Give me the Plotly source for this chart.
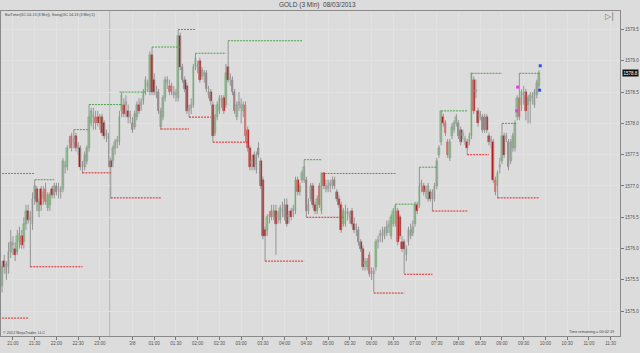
import plotly.graph_objects as go

# ---------------- data ----------------
opens = [
1575.4,1575.8,1575.6,1575.7,1575.95,1576.05,1576.0,1575.95,1576.1,1576.2,
1576.1,1576.4,1576.6,1576.45,1576.4,1576.8,1576.95,1576.6,1576.95,1576.8,
1576.95,1576.65,1576.7,1576.95,1576.85,1577.0,1576.95,1576.9,1576.95,1577.3,
1577.3,1577.7,1577.8,1577.7,1577.8,1577.6,1577.6,1577.3,1577.3,1577.4,
1577.6,1578.0,1578.1,1578.1,1578.1,1578.0,1578.1,1578.0,1577.85,1577.8,
1577.4,1577.4,1577.6,1577.7,1577.7,1578.2,1578.3,1578.3,1578.2,1578.1,
1578.0,1577.95,1578.1,1578.3,1578.3,1578.35,1578.5,1578.6,1578.5,1579.1,
1578.7,1578.5,1578.5,1577.95,1578.1,1578.4,1578.65,1578.6,1578.6,1578.5,
1578.45,1578.4,1579.4,1578.9,1578.7,1578.6,1578.2,1578.25,1578.3,1578.9,
1578.9,1579.0,1578.75,1578.8,1578.8,1578.5,1578.5,1578.3,1577.85,1578.1,
1578.2,1578.35,1578.4,1578.3,1578.9,1578.7,1578.7,1578.5,1578.1,1578.3,
1578.3,1578.2,1578.3,1577.9,1577.6,1577.35,1577.5,1577.25,1577.6,1577.4,
1577.1,1576.3,1576.3,1576.5,1576.6,1576.5,1576.6,1576.5,1576.45,1576.6,
1576.5,1576.7,1576.5,1576.6,1576.6,1576.6,1577.1,1576.9,1577.1,1577.1,
1577.1,1576.6,1576.8,1577.0,1576.7,1576.6,1577.0,1576.6,1577.2,1577.0,
1576.95,1577.0,1577.0,1577.1,1576.9,1576.8,1576.7,1576.4,1576.4,1576.55,
1576.5,1576.6,1576.4,1576.3,1576.3,1576.1,1576.0,1575.75,1575.7,1575.9,
1575.65,1575.6,1575.7,1576.1,1576.2,1576.2,1576.2,1576.25,1576.35,1576.2,
1576.4,1576.4,1576.6,1576.5,1576.1,1576.1,1575.9,1576.1,1576.2,1576.25,
1576.4,1576.7,1576.7,1577.0,1577.0,1576.9,1576.8,1576.9,1576.8,1576.8,
1577.0,1577.5,1577.7,1578.1,1578.0,1577.7,1577.45,1577.8,1577.9,1578.0,
1578.0,1577.9,1577.85,1577.75,1577.7,1577.7,1577.8,1578.7,1578.5,1578.2,
1578.15,1578.1,1578.1,1578.1,1577.8,1577.7,1577.7,1577.1,1577.0,1577.3,
1577.4,1577.8,1577.75,1577.7,1577.4,1577.6,1577.6,1578.1,1578.4,1578.3,
1578.45,1578.5,1578.3,1578.35,1578.4,1578.3,1578.45,1578.6]
highs = [
1575.8,1575.9,1575.8,1576.1,1576.3,1576.2,1576.1,1576.3,1576.35,1576.3,
1576.5,1576.7,1576.7,1576.6,1576.9,1577.1,1577.0,1576.8,1577.0,1577.0,
1577.05,1576.9,1576.9,1577.0,1577.05,1577.05,1577.05,1577.0,1577.45,1577.4,
1577.65,1577.8,1577.85,1577.9,1577.85,1577.7,1577.65,1577.4,1577.55,1577.65,
1578.3,1578.25,1578.25,1578.2,1578.2,1578.15,1578.15,1578.05,1577.9,1577.85,
1577.45,1577.65,1577.75,1577.8,1578.2,1578.5,1578.4,1578.45,1578.3,1578.2,
1578.1,1578.2,1578.35,1578.4,1578.4,1578.55,1578.75,1578.7,1579.15,1579.22,
1578.8,1578.6,1578.55,1578.25,1578.45,1578.75,1578.75,1578.7,1578.65,1578.6,
1578.55,1579.5,1579.45,1578.95,1578.75,1578.65,1578.3,1578.4,1578.95,1579.12,
1579.0,1579.05,1578.9,1578.85,1578.85,1578.6,1578.55,1578.35,1578.15,1578.35,
1578.45,1578.45,1578.45,1578.95,1579.32,1578.8,1578.75,1578.55,1578.35,1578.5,
1578.4,1578.35,1578.35,1577.95,1577.65,1577.5,1577.55,1577.55,1577.7,1577.45,
1577.15,1576.35,1576.55,1576.6,1576.7,1576.7,1576.7,1576.6,1576.7,1576.75,
1576.8,1576.8,1576.6,1576.65,1576.7,1577.15,1577.15,1577.05,1577.25,1577.42,
1577.15,1576.8,1577.05,1577.05,1576.75,1576.85,1577.05,1577.2,1577.2,1577.1,
1577.1,1577.1,1577.15,1577.15,1576.95,1576.85,1576.75,1576.65,1576.7,1576.65,
1576.6,1576.65,1576.5,1576.4,1576.35,1576.15,1576.05,1575.85,1575.85,1575.95,
1575.7,1575.7,1576.15,1576.2,1576.3,1576.35,1576.35,1576.45,1576.45,1576.55,
1576.65,1576.71,1576.65,1576.55,1576.2,1576.15,1576.05,1576.35,1576.4,1576.45,
1576.75,1576.75,1577.3,1577.1,1577.05,1577.0,1577.05,1576.95,1576.95,1577.05,
1577.45,1577.65,1578.2,1578.15,1578.05,1577.75,1577.75,1578.0,1578.05,1578.15,
1578.05,1577.95,1577.9,1577.8,1577.75,1577.85,1578.8,1578.75,1578.7,1578.25,
1578.2,1578.15,1578.15,1578.15,1577.85,1577.8,1577.75,1577.15,1577.25,1577.45,
1578.0,1577.85,1577.85,1577.75,1577.75,1577.85,1578.05,1578.45,1578.8,1578.55,
1578.6,1578.55,1578.45,1578.5,1578.5,1578.55,1578.7,1578.85]
lows = [
1575.3,1575.6,1575.5,1575.6,1575.85,1575.9,1575.8,1575.9,1576.0,1576.0,
1576.0,1576.3,1576.4,1575.7,1576.3,1576.7,1576.6,1576.5,1576.6,1576.7,
1576.7,1576.6,1576.6,1576.8,1576.8,1576.85,1576.8,1576.8,1576.9,1577.2,
1577.25,1577.6,1577.55,1577.6,1577.55,1577.5,1577.25,1577.2,1577.25,1577.35,
1577.55,1577.95,1577.9,1577.9,1577.95,1577.9,1577.8,1577.75,1577.7,1577.3,
1576.8,1577.3,1577.5,1577.6,1577.65,1578.1,1578.1,1578.1,1578.0,1578.0,
1577.85,1577.9,1578.05,1578.15,1578.2,1578.3,1578.45,1578.5,1578.45,1578.45,
1578.45,1578.4,1578.15,1577.9,1578.05,1578.35,1578.55,1578.45,1578.45,1578.4,
1578.35,1578.35,1578.85,1578.65,1578.5,1578.15,1578.1,1578.15,1578.25,1578.85,
1578.8,1578.65,1578.7,1578.65,1578.5,1578.4,1578.3,1577.7,1577.8,1578.05,
1578.15,1578.25,1578.15,1578.25,1578.65,1578.6,1578.45,1578.15,1578.05,1578.2,
1578.0,1578.1,1577.7,1577.55,1577.25,1577.25,1577.25,1577.2,1577.45,1576.95,
1576.15,1575.8,1576.2,1576.4,1576.45,1576.45,1575.9,1576.4,1576.4,1576.5,
1576.45,1576.35,1576.4,1576.45,1576.5,1576.55,1576.85,1576.85,1577.05,1577.05,
1576.5,1576.55,1576.75,1576.65,1576.55,1576.55,1576.65,1576.55,1576.95,1576.9,
1576.9,1576.9,1576.95,1576.95,1576.75,1576.65,1576.25,1576.35,1576.35,1576.45,
1576.4,1576.35,1576.25,1576.2,1576.05,1575.95,1575.65,1575.65,1575.65,1575.55,
1575.5,1575.3,1575.65,1576.0,1576.1,1576.1,1576.15,1576.2,1576.25,1576.15,
1576.35,1576.35,1576.05,1576.15,1575.95,1575.6,1575.8,1576.05,1576.15,1576.2,
1576.35,1576.55,1576.65,1576.9,1576.85,1576.8,1576.75,1576.75,1576.6,1576.75,
1576.95,1577.45,1577.65,1577.95,1577.8,1577.45,1577.4,1577.75,1577.85,1577.95,
1577.75,1577.65,1577.75,1577.65,1577.5,1577.65,1577.75,1578.15,1578.4,1577.95,
1578.05,1577.85,1577.85,1577.85,1577.65,1577.6,1577.05,1576.85,1576.8,1577.2,
1577.35,1577.45,1577.7,1577.25,1577.35,1577.55,1577.55,1578.05,1578.05,1578.2,
1578.3,1578.05,1578.0,1578.0,1578.3,1578.25,1578.4,1578.55]
closes = [
1575.7,1575.7,1575.75,1575.95,1576.1,1576.05,1575.9,1576.2,1576.25,1576.05,
1576.4,1576.6,1576.45,1576.5,1576.8,1577.0,1576.75,1576.75,1576.7,1576.9,
1576.75,1576.85,1576.85,1576.85,1577.0,1576.9,1576.95,1576.95,1577.4,1577.3,
1577.6,1577.7,1577.6,1577.75,1577.6,1577.6,1577.3,1577.3,1577.5,1577.6,
1578.1,1578.2,1578.1,1578.0,1578.0,1578.1,1577.85,1577.8,1577.8,1577.75,
1577.3,1577.6,1577.7,1577.7,1578.1,1578.45,1578.15,1578.3,1578.1,1578.1,
1577.9,1578.15,1578.3,1578.2,1578.3,1578.5,1578.7,1578.6,1579.1,1578.5,
1578.5,1578.45,1578.2,1578.2,1578.4,1578.7,1578.65,1578.5,1578.5,1578.45,
1578.45,1579.4,1578.9,1578.7,1578.55,1578.2,1578.25,1578.3,1578.9,1579.05,
1578.9,1578.7,1578.85,1578.75,1578.55,1578.45,1578.35,1577.8,1578.1,1578.3,
1578.4,1578.35,1578.2,1578.8,1578.7,1578.7,1578.5,1578.2,1578.3,1578.3,
1578.25,1578.3,1577.8,1577.6,1577.3,1577.4,1577.3,1577.5,1577.5,1577.0,
1576.2,1576.2,1576.5,1576.5,1576.5,1576.6,1576.4,1576.5,1576.65,1576.6,
1576.7,1576.4,1576.5,1576.5,1576.6,1577.1,1576.9,1577.0,1577.2,1577.3,
1576.6,1576.7,1577.0,1576.7,1576.6,1576.8,1576.7,1577.2,1577.0,1576.95,
1577.0,1577.0,1577.1,1577.0,1576.8,1576.7,1576.3,1576.6,1576.6,1576.55,
1576.5,1576.4,1576.3,1576.3,1576.1,1576.0,1575.7,1575.75,1575.8,1575.6,
1575.6,1575.65,1576.1,1576.1,1576.2,1576.25,1576.3,1576.35,1576.35,1576.5,
1576.6,1576.7,1576.1,1576.2,1576.0,1576.0,1576.0,1576.3,1576.3,1576.35,
1576.7,1576.6,1577.0,1577.0,1576.9,1576.9,1577.0,1576.8,1576.9,1577.0,
1577.4,1577.6,1578.2,1578.0,1577.85,1577.5,1577.7,1577.95,1578.0,1578.1,
1577.8,1577.7,1577.8,1577.7,1577.6,1577.8,1578.8,1578.2,1578.5,1578.0,
1578.1,1577.9,1577.9,1577.9,1577.7,1577.7,1577.1,1576.9,1577.2,1577.3,
1577.8,1577.5,1577.8,1577.3,1577.7,1577.8,1578.0,1578.4,1578.1,1578.5,
1578.45,1578.2,1578.4,1578.45,1578.4,1578.5,1578.65,1578.8]

# swing indicator levels (bar index start/end, price)
swing_hi_start = [0, 15, 33, 40, 54, 69, 81, 89, 104, 139, 147, 181, 192, 202, 216, 230, 238]
swing_hi_end   = [15, 24, 40, 55, 66, 82, 89, 103, 138, 147, 181, 191, 200, 214, 230, 237, 247]
swing_hi_price = [1577.2, 1577.1, 1577.9, 1578.3, 1578.5, 1579.22, 1579.5, 1579.12, 1579.32,
                  1577.42, 1577.2, 1576.71, 1577.3, 1578.2, 1578.8, 1578.0, 1578.8]
swing_lo_start = [0, 13, 37, 50, 73, 86, 97, 121, 140, 171, 185, 198, 214, 228]
swing_lo_end   = [12, 37, 50, 73, 86, 96, 113, 139, 157, 185, 198, 214, 224, 247]
swing_lo_price = [1574.89, 1575.71, 1577.21, 1576.81, 1577.91, 1578.1, 1577.7, 1575.8,
                  1576.5, 1575.29, 1575.59, 1576.6, 1577.5, 1576.81]

# small signal marks near the last bars
mark_magenta_x = [236.8, 237.2]
mark_magenta_y = [1578.2, 1578.58]
mark_blue_x = [247.3, 247.6]
mark_blue_y = [1578.53, 1578.92]

# time axis (bar index of each labelled time)
time_ticks = [5, 15, 25, 35, 45, 60, 70, 80, 90, 100, 110, 120, 130, 140, 150, 160, 170,
              180, 190, 200, 210, 220, 230, 240, 250, 260, 270, 280]
time_labels = ["21:00", "21:30", "22:00", "22:30", "23:00", "3/8", "01:00", "01:30", "02:00",
               "02:30", "03:00", "03:30", "04:00", "04:30", "05:00", "05:30", "06:00", "06:30",
               "07:00", "07:30", "08:00", "08:30", "09:00", "09:30", "10:00", "10:30", "11:00",
               "11:30"]
price_ticks = [1575.0, 1575.5, 1576.0, 1576.5, 1577.0, 1577.5, 1578.0, 1578.5, 1579.0, 1579.5]
session_break = 49.5
last_price = closes[-1]

# ---------------- figure ----------------
n = len(closes)
idx = list(range(n))

fig = go.Figure()

# wicks
wx, wy = [], []
for i in idx:
    wx += [i, i, None]
    wy += [lows[i], highs[i], None]
fig.add_trace(go.Scatter(x=wx, y=wy, mode="lines", line=dict(color="#959595", width=1),
                         hoverinfo="skip", showlegend=False))

def body(sel, fill, edge):
    xs = [i for i in idx if sel(i)]
    base = [min(opens[i], closes[i]) for i in xs]
    hgt = [max(abs(closes[i] - opens[i]), 0.04) for i in xs]
    fig.add_trace(go.Bar(x=xs, y=hgt, base=base, width=0.78,
                         marker=dict(color=fill, line=dict(color=edge, width=0.4)),
                         showlegend=False, hoverinfo="skip"))

body(lambda i: closes[i] - opens[i] > 0.051, "#94d294", "#62a062")
body(lambda i: opens[i] - closes[i] > 0.051, "#bb0000", "#b00000")
body(lambda i: abs(closes[i] - opens[i]) <= 0.051, "#bcbcbc", "#a0a0a0")

def swing(starts, ends, prices, color):
    xs, ys = [], []
    for s, e, p in zip(starts, ends, prices):
        xs += [s, e, None]
        ys += [p, p, None]
    fig.add_trace(go.Scatter(x=xs, y=ys, mode="lines",
                             line=dict(color=color, width=1, dash="2px,1px"),
                             hoverinfo="skip", showlegend=False))

swing(swing_hi_start, swing_hi_end, swing_hi_price, "#4aa24a")
swing(swing_lo_start, swing_lo_end, swing_lo_price, "#e02626")

fig.add_trace(go.Scatter(x=mark_magenta_x, y=mark_magenta_y, mode="markers",
                         marker=dict(symbol="square", size=3, color="#e040e0"),
                         showlegend=False, hoverinfo="skip"))
fig.add_trace(go.Scatter(x=mark_blue_x, y=mark_blue_y, mode="markers",
                         marker=dict(symbol="square", size=3, color="#3050e0"),
                         showlegend=False, hoverinfo="skip"))

grid = "#e2e2e2"
axis_font = dict(family="Liberation Sans, Arial, sans-serif", size=4.5, color="#555555")

fig.update_layout(
    width=640, height=353,
    margin=dict(l=1, r=20, t=11, b=17),
    paper_bgcolor="#dcdcdc", plot_bgcolor="#dcdcdc",
    barmode="overlay", bargap=0,
    showlegend=False,
    xaxis=dict(range=[-0.5, 284.3], tickmode="array", tickvals=time_ticks, ticktext=time_labels,
               showgrid=True, gridcolor=grid, gridwidth=1, zeroline=False,
               ticks="outside", ticklen=3, tickcolor="#777777", tickfont=axis_font,
               showline=True, linecolor="#8a8a8a", linewidth=1, mirror=True),
    yaxis=dict(range=[1574.604, 1579.795], side="right", tickmode="array",
               tickvals=price_ticks, ticktext=["%.1f" % p for p in price_ticks],
               showgrid=True, gridcolor=grid, gridwidth=1, zeroline=False,
               ticks="outside", ticklen=3, tickcolor="#777777", tickfont=axis_font,
               showline=True, linecolor="#8a8a8a", linewidth=1, mirror=True),
)

fig.add_shape(type="line", x0=session_break, x1=session_break, y0=0, y1=1, yref="paper",
              line=dict(color="#b8b8b8", width=1), layer="below")

small = "Liberation Sans, Arial, sans-serif"
fig.add_annotation(text="GOLD (3 Min)  08/03/2013", xref="paper", yref="paper", x=0.512, y=1.0185,
                   xanchor="center", yanchor="middle", showarrow=False,
                   font=dict(family=small, size=6.5, color="#444444"))
fig.add_annotation(text="BarTimer(GC 04-13 (3 Min)), Swing(GC 04-13 (3 Min),5)",
                   xref="paper", yref="paper", x=0.003, y=0.988, xanchor="left", yanchor="middle",
                   showarrow=False, font=dict(family=small, size=3.6, color="#444444"))
fig.add_annotation(text="© 2012 NinjaTrader, LLC", xref="paper", yref="paper", x=0.0, y=0.009,
                   xanchor="left", yanchor="middle", showarrow=False,
                   font=dict(family=small, size=3.8, color="#444444"))
fig.add_annotation(text="Time remaining = 00:02:19", xref="paper", yref="paper", x=0.9935, y=0.012,
                   xanchor="right", yanchor="middle", showarrow=False,
                   font=dict(family=small, size=3.8, color="#444444"))
fig.add_annotation(text="▷|", xref="paper", yref="paper", x=0.9935, y=0.982,
                   xanchor="right", yanchor="middle", showarrow=False,
                   font=dict(family="DejaVu Sans", size=8, color="#777777"))
fig.add_annotation(text="%.1f" % last_price, xref="paper", yref="y", x=1.0, y=last_price,
                   xanchor="left", yanchor="middle", xshift=2, showarrow=False,
                   bgcolor="#111111", borderpad=0.5,
                   font=dict(family=small, size=4.5, color="#ffffff"))

fig.write_html("out.html")
